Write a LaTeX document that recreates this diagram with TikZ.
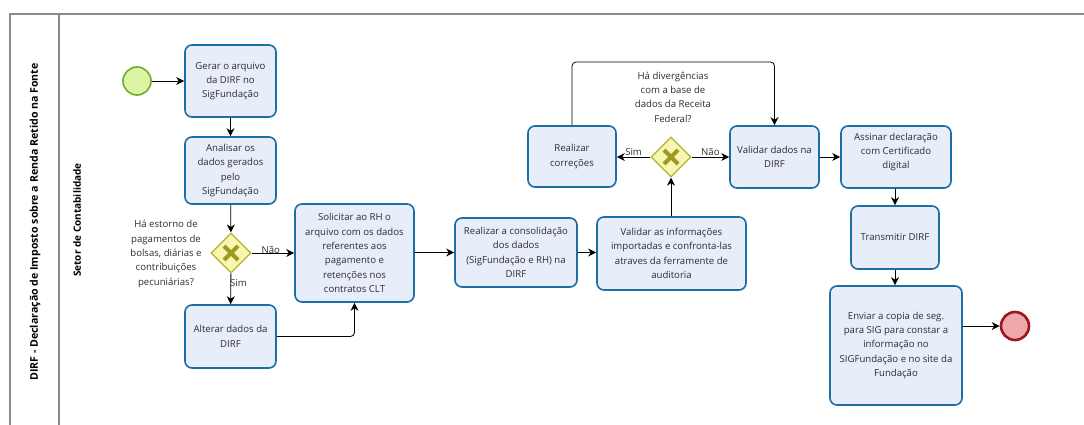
\documentclass[tikz,border=0pt]{standalone}
\usepackage{fontspec}
\setmainfont{Open Sans}
\usetikzlibrary{shapes.geometric,arrows.meta}
\definecolor{taskfill}{HTML}{E8EDFA}
\definecolor{taskline}{HTML}{1C6EA4}
\definecolor{gwfill}{HTML}{F8F7B2}
\definecolor{gwline}{HTML}{B3B32E}
\definecolor{gwmark}{HTML}{9C9A22}
\definecolor{startfill}{HTML}{DDF3A6}
\definecolor{startline}{HTML}{6FAE2A}
\definecolor{endfill}{HTML}{EFA7A9}
\definecolor{endline}{HTML}{A3141A}
\definecolor{txt}{HTML}{2E2E2E}
\definecolor{poolline}{HTML}{8A8A8A}
\tikzset{
  task/.style={draw=taskline, fill=taskfill, line width=1.6pt, rounded corners=7pt,
    align=center, text=txt, font=\fontsize{9.6}{14.3}\selectfont, inner sep=2pt},
  gateway/.style={diamond, draw=gwline, fill=gwfill, line width=1.3pt,
    minimum width=40pt, minimum height=40pt, inner sep=0pt},
  startev/.style={circle, draw=startline, fill=startfill, line width=1.6pt, minimum size=28pt, inner sep=0pt},
  endev/.style={circle, draw=endline, fill=endfill, line width=2.6pt, minimum size=28pt, inner sep=0pt},
  flow/.style={draw=black, line width=0.8pt, -{Stealth[length=8pt,width=8pt,inset=2.5pt]}, rounded corners=4pt},
  lbl/.style={text=txt, font=\fontsize{9.6}{14.3}\selectfont, align=center, inner sep=0pt},
  poolt/.style={text=black, font=\fontsize{10.6}{12}\selectfont\bfseries, rotate=90},
}
\newcommand{\gwx}[1]{%
  \draw[gwmark, line width=4pt] ([shift={(-7pt,-7pt)}]#1.center) -- ([shift={(7pt,7pt)}]#1.center);
  \draw[gwmark, line width=4pt] ([shift={(-7pt,7pt)}]#1.center) -- ([shift={(7pt,-7pt)}]#1.center);}
\begin{document}
\begin{tikzpicture}[x=1pt, y=-1pt]
\useasboundingbox[fill=white] (0,0) rectangle (1084,425);
% pool and lane
\draw[poolline, line width=1.3pt] (1084,14) -- (10,14) -- (10,425);
\draw[poolline, line width=1.3pt] (59,14) -- (59,425);
\node[poolt] (pool) at (35,222) {DIRF - Declaração de Imposto sobre a Renda Retido na Fonte};
\node[poolt, font=\fontsize{10}{12}\selectfont\bfseries] (lane) at (77,220) {Setor de Contabilidade};

% events
\node[startev] (start) at (137,81) {};
\node[endev] (end) at (1015,326) {};

% tasks
\node[task, minimum width=91pt, minimum height=72pt] (t1) at (230.5,81) {Gerar o arquivo\\da DIRF no\\SigFundação};
\node[task, minimum width=91pt, minimum height=67pt] (t2) at (230.5,170.5) {Analisar os\\dados gerados\\pelo\\SigFundação};
\node[task, minimum width=91pt, minimum height=63pt] (t3) at (230.5,336.5) {Alterar dados da\\DIRF};
\node[task, minimum width=119pt, minimum height=98pt] (t4) at (354.5,253) {Solicitar ao RH o\\arquivo com os dados\\referentes aos\\pagamento e\\retenções nos\\contratos CLT};
\node[task, minimum width=122pt, minimum height=69pt] (t5) at (516,252.5) {Realizar a consolidação\\dos dados\\(SigFundação e RH) na\\DIRF};
\node[task, minimum width=149pt, minimum height=73pt] (t6) at (671.5,253.5) {Validar as informações\\importadas e confronta-las\\atraves da ferramente de\\auditoria};
\node[task, minimum width=88pt, minimum height=61pt] (t7) at (572,156.5) {Realizar\\correções};
\node[task, minimum width=89pt, minimum height=62pt] (t8) at (774.5,157) {Validar dados na\\DIRF};
\node[task, minimum width=110pt, minimum height=62pt] (t9) at (896,157) {Assinar declaração\\com Certificado\\digital\\[-2pt]};
\node[task, minimum width=88pt, minimum height=63pt] (t10) at (895,237.5) {Transmitir DIRF};
\node[task, minimum width=132pt, minimum height=119pt] (t11) at (896,345.5) {Enviar a copia de seg.\\para SIG para constar a\\informação no\\SIGFundação e no site da\\Fundação};

% gateways
\node[gateway] (g1) at (231,253) {};
\gwx{g1}
\node[gateway] (g2) at (671,157) {};
\gwx{g2}

% gateway questions
\node[lbl] (q1) at (166,254) {Há estorno de\\pagamentos de\\bolsas, diárias e\\contribuições\\pecuniárias?};
\node[lbl] (q2) at (673,97) {Há divergências\\com a base de\\dados da Receita\\Federal?};

% sequence flows
\draw[flow] (start) -- (t1);
\draw[flow] (t1) -- (t2);
\draw[flow] (t2) -- (g1);
\draw[flow] (g1) -- node[lbl, above, pos=0.45, yshift=-1pt] (l1) {Não} (t4.west |- g1);
\draw[flow] (g1) -- node[lbl, right, pos=0.3, xshift=-1pt] (l2) {Sim} (t3);
\draw[flow] (t3.east) -- (t4.south |- t3.east) -- (t4.south);
\draw[flow] (t4.east |- t5) -- (t5.west);
\draw[flow] (t5.east) -- (t6.west |- t5.east);
\draw[flow] (t6.north -| g2) -- (g2.south);
\draw[flow] (g2) -- node[lbl, above, yshift=1pt] (l3) {Sim} (t7.east |- g2);
\draw[flow] (g2) -- node[lbl, above, yshift=1pt] (l4) {Não} (t8.west |- g2);
\draw[flow] (t7.north) -- (572,62) -- (774.5,62) -- (t8.north);
\draw[flow] (t8.east |- t9) -- (t9.west);
\draw[flow] (t9.south -| t10) -- (t10.north);
\draw[flow] (t10.south) -- (t11.north -| t10);
\draw[flow] (t11.east |- end) -- (end);
\end{tikzpicture}
\end{document}
